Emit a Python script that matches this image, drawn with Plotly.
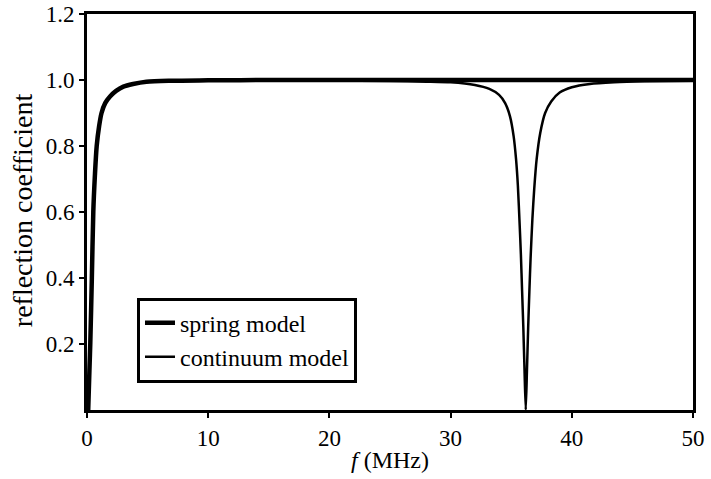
import plotly.graph_objects as go

# Spring model
spring_f = [0.1, 0.2, 0.27, 0.4, 0.52, 0.65, 0.8, 1.0, 1.2, 1.5, 1.9, 2.4, 3.0, 3.8, 4.9,
            7.0, 10.0, 15.0, 20.0, 30.0, 40.0, 50.0]
spring_r = [0.0, 0.12, 0.2, 0.4, 0.6, 0.71, 0.8, 0.86, 0.9, 0.93, 0.95, 0.967, 0.98, 0.988, 0.995,
            0.998, 0.999, 1.0, 1.0, 1.0, 1.0, 1.0]

# Continuum model
cont_f = [0.1, 0.2, 0.27, 0.4, 0.52, 0.65, 0.8, 1.0, 1.2, 1.5, 1.9, 2.4, 3.0, 3.8, 4.9,
          7.0, 10.0, 15.0, 20.0, 25.0, 28.0, 30.0, 32.0, 33.2, 34.0, 34.5, 34.9, 35.2,
          35.4, 35.55, 35.7, 35.8, 35.9, 36.0, 36.1, 36.2, 36.3, 36.4, 36.5, 36.6,
          36.75, 36.9, 37.1, 37.4, 37.8, 38.3, 39.0, 40.0, 41.5, 43.5, 46.0, 50.0]
cont_r = [0.0, 0.12, 0.2, 0.4, 0.6, 0.71, 0.8, 0.86, 0.9, 0.93, 0.95, 0.967, 0.98, 0.988, 0.995,
          0.998, 0.999, 0.999, 0.998, 0.997, 0.995, 0.993, 0.985, 0.973, 0.955, 0.93, 0.89, 0.83,
          0.76, 0.68, 0.56, 0.47, 0.36, 0.25, 0.12, 0.0, 0.12, 0.25, 0.36, 0.46,
          0.58, 0.67, 0.76, 0.84, 0.9, 0.935, 0.962, 0.978, 0.988, 0.993, 0.996, 0.998]

x_ticks = [0, 10, 20, 30, 40, 50]
y_ticks = [0.2, 0.4, 0.6, 0.8, 1.0, 1.2]

FONT = "Liberation Serif, Times New Roman, serif"

fig = go.Figure()
fig.add_trace(go.Scatter(x=spring_f, y=spring_r, mode="lines", name="spring model",
                         legendgroup="a",
                         line=dict(color="black", width=4.5, shape="spline", smoothing=0.8)))
fig.add_trace(go.Scatter(x=cont_f, y=cont_r, mode="lines", name="continuum model",
                         legendgroup="b",
                         line=dict(color="black", width=2.5, shape="spline", smoothing=0.6)))

fig.update_layout(
    width=711, height=479,
    margin=dict(l=87, r=18, t=14, b=69, autoexpand=False),
    paper_bgcolor="white", plot_bgcolor="white",
    font=dict(family=FONT, size=23, color="black"),
    showlegend=True,
    legend=dict(x=0.0825, y=0.284, xanchor="left", yanchor="top",
                bordercolor="black", borderwidth=3, bgcolor="white",
                font=dict(family=FONT, size=24, color="black"),
                traceorder="grouped", tracegroupgap=0, itemwidth=30),
    xaxis=dict(range=[0, 50], tickvals=x_ticks, ticktext=[str(v) for v in x_ticks],
               showline=True, linecolor="black", linewidth=3, mirror=True,
               ticks="outside", ticklen=5, tickwidth=2, tickcolor="black",
               showgrid=False, zeroline=False, automargin=False,
               tickfont=dict(family=FONT, size=23),
               title=dict(text="<i>f</i> (MHz)", font=dict(family=FONT, size=24), standoff=2)),
    yaxis=dict(range=[0, 1.2], tickvals=y_ticks, ticktext=["%.1f" % v for v in y_ticks],
               showline=True, linecolor="black", linewidth=3, mirror=True,
               ticks="outside", ticklen=5, tickwidth=2, tickcolor="black",
               showgrid=False, zeroline=False, automargin=False,
               tickfont=dict(family=FONT, size=23)),
    annotations=[dict(text="reflection coefficient", textangle=-90,
                      xref="paper", yref="paper", x=-0.107, y=0.505,
                      xanchor="center", yanchor="middle", showarrow=False,
                      font=dict(family=FONT, size=28, color="black"))],
)

fig.write_html("out.html")
